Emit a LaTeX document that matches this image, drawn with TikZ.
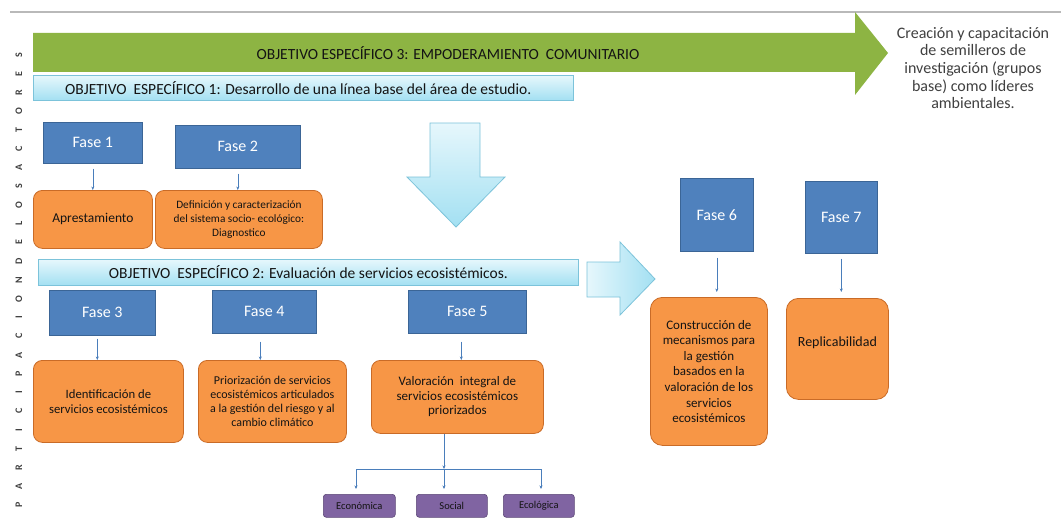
\documentclass[tikz,border=0pt]{standalone}
\usepackage{fontspec}
\setmainfont{Carlito}
\usetikzlibrary{arrows.meta}
\definecolor{faseblue}{HTML}{4F81BD}
\definecolor{fasebord}{HTML}{3B6596}
\definecolor{orng}{HTML}{F79646}
\definecolor{orngbord}{HTML}{C96B27}
\definecolor{grn}{HTML}{8DB443}
\definecolor{barlight}{HTML}{E6F7FC}
\definecolor{bardark}{HTML}{A3E0F2}
\definecolor{barbord}{HTML}{7CC3DA}
\definecolor{purp}{HTML}{8064A2}
\definecolor{purpbord}{HTML}{5C4776}
\definecolor{linkblue}{HTML}{4A7EBB}
\definecolor{txtdark}{HTML}{141414}
\definecolor{graytxt}{HTML}{404040}
\tikzset{
  fase/.style={fill=faseblue, draw=fasebord, line width=0.6pt, text=white, inner sep=0pt, anchor=north west, font=\fontsize{16}{18}\selectfont},
  obox/.style={fill=orng, draw=orngbord, line width=0.8pt, rounded corners=9pt, inner sep=2pt, anchor=north west, align=center, text=txtdark, font=\fontsize{12}{14.5}\selectfont},
  bar/.style={top color=barlight, bottom color=bardark, draw=barbord, line width=0.8pt, inner sep=0pt, anchor=north west},
  bartext/.style={text=txtdark, inner sep=0pt, font=\fontsize{15.5}{17}\selectfont},
  pbox/.style={fill=purp, draw=purpbord, line width=0.6pt, rounded corners=3pt, inner sep=0pt, anchor=north west, text=txtdark, font=\fontsize{10.5}{12}\selectfont},
  link/.style={draw=linkblue, line width=0.6pt, -{Stealth[length=3.5pt,width=3pt]}},
  ltr/.style={text=graytxt, inner sep=0pt, font=\fontsize{10}{10}\selectfont\bfseries},
  bigarrow/.style={top color=barlight, bottom color=bardark, draw=barbord, line width=0.8pt}
}
\begin{document}
\begin{tikzpicture}[x=1pt,y=-1pt]
\useasboundingbox[fill=white] (0,0) rectangle (1061,519);
% top gray line
\coordinate (gl1) at (10,12);
\coordinate (gl2) at (1061,12);
\draw[draw=gray!55, line width=1.2pt] (gl1) -- (gl2);
% green arrow
\path[fill=grn] (33,33) -- (855,33) -- (855,12) -- (888,53) -- (855,95) -- (855,72) -- (33,72) -- cycle;
\node[bartext] (obj3) at (448,53) {OBJETIVO ESPECÍFICO 3: EMPODERAMIENTO\ \ COMUNITARIO};
% right text
\node[align=center, text=graytxt, inner sep=0pt, font=\fontsize{16}{17.7}\selectfont] (crea) at (973,68) {Creación y capacitación\\de semilleros de\\investigación (grupos\\base) como líderes\\ambientales.};
% bar 1
\node[bar, minimum width=540pt, minimum height=25pt] (b1) at (33,75) {};
\node[bartext, anchor=west] (b1t) at ([xshift=32pt]b1.west) {OBJETIVO\ \ ESPECÍFICO 1: Desarrollo de una línea base del área de estudio.};
% left vertical letters
\foreach \c [count=\i from 0] in {P,A,R,T,I,C,I,P,A,C,I,O,N,D,E,L,O,S,A,C,T,O,R,E,S}
  \node[ltr, rotate=90] (ltr\i) at (19,{505-\i*18.75}) {\c};
% Fase 1, 2
\node[fase, minimum width=99pt, minimum height=41pt] (f1) at (43,122) {Fase 1};
\node[fase, minimum width=125pt, minimum height=43pt] (f2) at (175,125) {Fase 2};
\node[obox, minimum width=119pt, minimum height=58pt, font=\fontsize{13.5}{15}\selectfont] (apr) at (33,190) {Aprestamiento};
\node[obox, minimum width=167pt, minimum height=58pt, font=\fontsize{11.3}{14}\selectfont] (def) at (155,190) {Definición y caracterización\\del sistema socio- ecológico:\\Diagnostico};
\draw[link, shorten <=5pt] (f1.south) -- (f1.south |- apr.north);
\draw[link, shorten <=5pt] (f2.south) -- (f2.south |- def.north);
% down arrow
\path[bigarrow] (430,123) -- (480,123) -- (480,177) -- (505,177) -- (456,227) -- (407,177) -- (430,177) -- cycle;
% bar 2
\node[bar, minimum width=540pt, minimum height=26pt] (b2) at (38,259) {};
\node[bartext] (b2t) at (b2.center) {OBJETIVO\ \ ESPECÍFICO 2: Evaluación de servicios ecosistémicos.};
% right arrow
\path[bigarrow, left color=barlight, right color=bardark] (587,262) -- (620,262) -- (620,242) -- (655,279) -- (620,315) -- (620,297) -- (587,297) -- cycle;
% Fase 3,4,5
\node[fase, minimum width=106pt, minimum height=45pt] (f3) at (49,290) {Fase 3};
\node[fase, minimum width=104pt, minimum height=43pt] (f4) at (212,290) {Fase 4};
\node[fase, minimum width=118pt, minimum height=43pt] (f5) at (408,290) {Fase 5};
\node[obox, minimum width=150pt, minimum height=82pt, font=\fontsize{12.7}{14.5}\selectfont] (idn) at (33,360) {Identificación de\\servicios ecosistémicos};
\node[obox, minimum width=148pt, minimum height=82pt, font=\fontsize{12}{14.3}\selectfont] (pri) at (198,360) {Priorización de servicios\\ecosistémicos articulados\\a la gestión del riesgo y al\\cambio climático};
\node[obox, minimum width=172pt, minimum height=73pt, font=\fontsize{13}{14.5}\selectfont] (val) at (371,360) {Valoración\ \ integral de\\servicios ecosistémicos\\priorizados};
\draw[link, shorten <=3pt] ([xshift=-5pt]f3.south) -- ([xshift=-5pt]f3.south |- idn.north);
\draw[link, shorten <=8pt] ([xshift=-4pt]f4.south) -- ([xshift=-4pt]f4.south |- pri.north);
\draw[link, shorten <=8pt] ([xshift=-6pt]f5.south) -- ([xshift=-6pt]f5.south |- val.north);
% Fase 6,7
\node[fase, minimum width=73pt, minimum height=73pt] (f6) at (680,178) {Fase 6};
\node[fase, minimum width=72pt, minimum height=72pt] (f7) at (805,181) {Fase 7};
\node[obox, minimum width=117pt, minimum height=148pt, rounded corners=12pt, font=\fontsize{13}{15.6}\selectfont] (con) at (650,297) {Construcción de\\mecanismos para\\la gestión\\basados en la\\valoración de los\\servicios\\ecosistémicos};
\node[obox, minimum width=102pt, minimum height=101pt, rounded corners=12pt, font=\fontsize{14}{15}\selectfont, text depth=14pt] (rep) at (786,298) {Replicabilidad};
\draw[link, shorten <=6pt, shorten >=5pt] (f6.south) -- (f6.south |- con.north);
\draw[link, shorten <=5pt, shorten >=6pt] (f7.south) -- (f7.south |- rep.north);
% purple boxes
\node[pbox, minimum width=72pt, minimum height=23pt] (eco) at (323,494) {Económica};
\node[pbox, minimum width=71pt, minimum height=23pt] (soc) at (416,494) {Social};
\node[pbox, minimum width=71pt, minimum height=23pt] (ecl) at (503,494) {Ecológica};
\coordinate (j) at (444,469);
\coordinate (jl) at (356,469);
\coordinate (jr) at (541,469);
\draw[link] (j |- val.south) -- (j);
\draw[draw=linkblue, line width=0.6pt] (jl) -- (jr);
\draw[link, shorten >=5pt] (jl) -- (jl |- eco.north);
\draw[link, shorten >=5pt] (j) -- (j |- soc.north);
\draw[link, shorten >=5pt] (jr) -- (jr |- ecl.north);
\end{tikzpicture}
\end{document}
